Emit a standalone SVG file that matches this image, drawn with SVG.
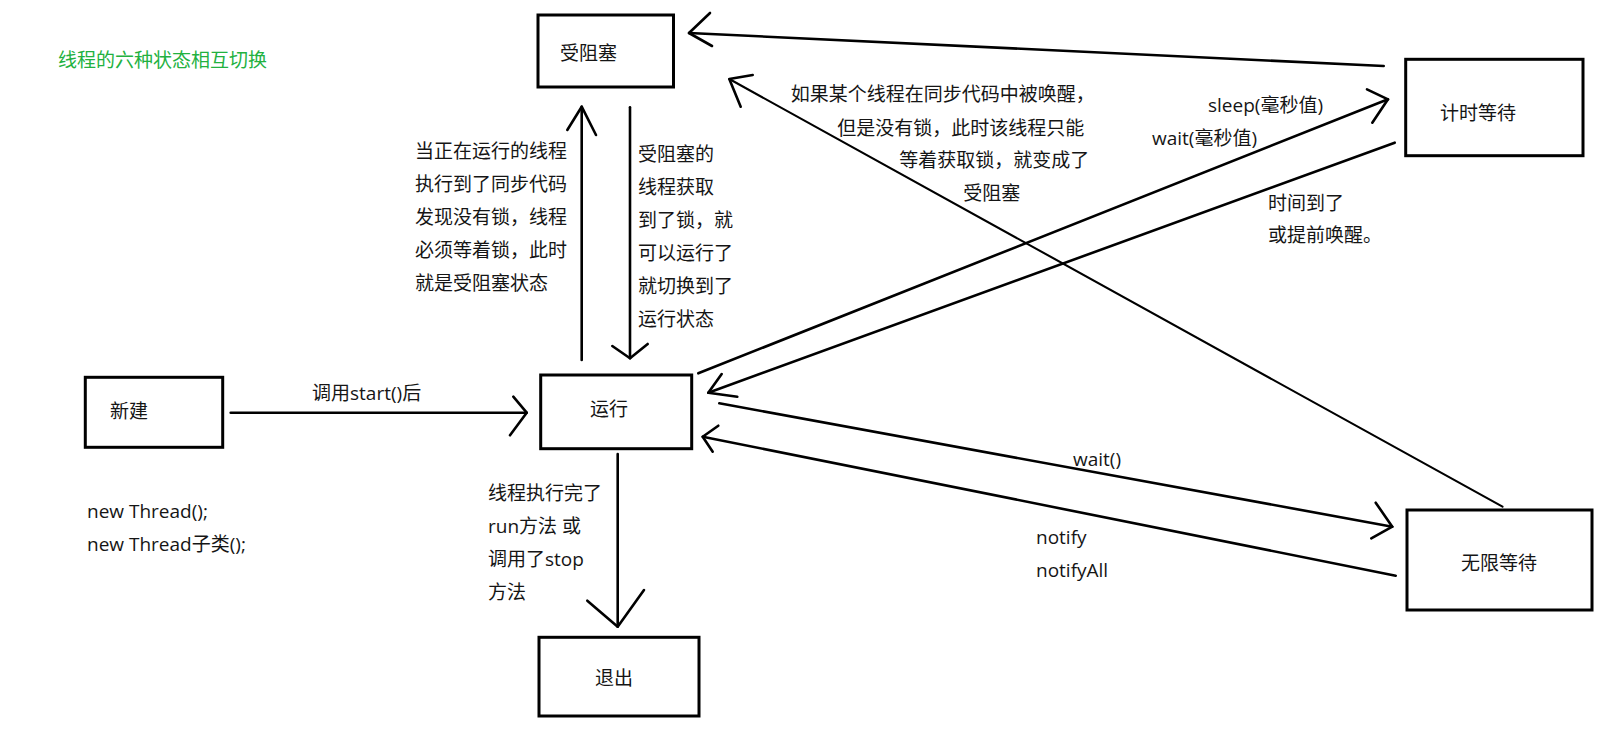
<svg xmlns="http://www.w3.org/2000/svg" width="1613" height="734" viewBox="0 0 1613 734">
<style>
  .box{fill:#fff;stroke:#000;stroke-width:3}
  .t{font-family:"Open Sans","Noto Sans CJK SC",sans-serif;font-size:19px;fill:#151515}
  .title{font-family:"Open Sans","Noto Sans CJK SC",sans-serif;font-size:19px;fill:#22b13f}
  .ln{fill:none;stroke:#000;stroke-width:2.6;stroke-linecap:round;stroke-linejoin:round}
  .thin{stroke-width:2.1}
</style>
<rect width="1613" height="734" fill="#fff"/>
<text class="title" x="58" y="67">线程的六种状态相互切换</text>

<g id="connectors">
  <g id="e-timed-blocked"><path class="ln" d="M1383.7,66 L689,33"/><polyline class="ln" points="710,13 689,33 712,46"/></g>
  <g id="e-waiting-blocked"><path class="ln thin" d="M1502.5,506.7 L729.3,79"/><polyline class="ln" points="752.7,75 729.3,79 740.7,106.7"/></g>
  <g id="e-run-blocked"><path class="ln" d="M581.7,360 L581.7,106.7"/><polyline class="ln" points="567.3,130 581.7,106.7 596,135"/></g>
  <g id="e-blocked-run"><path class="ln" d="M630,107.3 L630,358.3"/><polyline class="ln" points="612.3,346 630,358.3 647.7,344"/></g>
  <g id="e-new-run"><path class="ln" d="M230.7,412.7 L526.7,412.7"/><polyline class="ln" points="513.3,396.7 526.7,412.7 510,435.3"/></g>
  <g id="e-run-timed"><path class="ln" d="M698.3,373.3 L1388,99.3"/><polyline class="ln" points="1367,89.3 1388,99.3 1372.3,122.7"/></g>
  <g id="e-timed-run"><path class="ln" d="M1394.7,142.7 L708.3,392.7"/><polyline class="ln" points="721.7,374 708.3,392.7 737.3,396.7"/></g>
  <g id="e-run-waiting"><path class="ln" d="M719.3,403.3 L1392.3,526.7"/><polyline class="ln" points="1375.7,502.7 1392.3,526.7 1371.3,538.3"/></g>
  <g id="e-waiting-run"><path class="ln" d="M1395.7,575.7 L702.7,436.7"/><polyline class="ln" points="718.3,425.7 702.7,436.7 712.7,451.7"/></g>
  <g id="e-run-exit"><path class="ln" d="M617.7,454 L617.7,626.7"/><polyline class="ln" points="587.3,600.7 617.7,626.7 644,590"/></g>
</g>

<g id="labels">
  <text class="t" x="415" y="158">当正在运行的线程</text>
  <text class="t" x="415" y="191">执行到了同步代码</text>
  <text class="t" x="415" y="224">发现没有锁，线程</text>
  <text class="t" x="415" y="257">必须等着锁，此时</text>
  <text class="t" x="415" y="290">就是受阻塞状态</text>

  <text class="t" x="638" y="161">受阻塞的</text>
  <text class="t" x="638" y="194">线程获取</text>
  <text class="t" x="638" y="227">到了锁，就</text>
  <text class="t" x="638" y="260">可以运行了</text>
  <text class="t" x="638" y="293">就切换到了</text>
  <text class="t" x="638" y="326">运行状态</text>

  <text class="t" x="790.7" y="101">如果某个线程在同步代码中被唤醒，</text>
  <text class="t" x="837.3" y="134.5">但是没有锁，此时该线程只能</text>
  <text class="t" x="899.3" y="167">等着获取锁，就变成了</text>
  <text class="t" x="963.3" y="200">受阻塞</text>

  <text class="t" x="1208" y="112">sleep(毫秒值)</text>
  <text class="t" x="1152" y="144.5">wait(毫秒值)</text>
  <text class="t" x="1268" y="209.5">时间到了</text>
  <text class="t" x="1268" y="242">或提前唤醒。</text>

  <text class="t" x="312" y="400">调用start()后</text>
  <text class="t" x="87" y="518">new Thread();</text>
  <text class="t" x="87" y="551">new Thread子类();</text>

  <text class="t" x="488" y="499.5">线程执行完了</text>
  <text class="t" x="488" y="532.5">run方法 或</text>
  <text class="t" x="488" y="565.5">调用了stop</text>
  <text class="t" x="488" y="598.5">方法</text>

  <text class="t" x="1073" y="466">wait()</text>
  <text class="t" x="1036" y="544">notify</text>
  <text class="t" x="1036" y="577">notifyAll</text>
</g>

<g id="node-blocked"><rect class="box" x="538" y="15" width="135.5" height="72"/><text class="t" x="560" y="60">受阻塞</text></g>
<g id="node-timed"><rect class="box" x="1405.7" y="59.3" width="177.3" height="96.4"/><text class="t" x="1440" y="119.5">计时等待</text></g>
<g id="node-new"><rect class="box" x="85.3" y="377.3" width="137.4" height="70"/><text class="t" x="110" y="418">新建</text></g>
<g id="node-running"><rect class="box" x="540.7" y="375" width="151" height="73.7"/><text class="t" x="590" y="416">运行</text></g>
<g id="node-waiting"><rect class="box" x="1407" y="510" width="185" height="100"/><text class="t" x="1461" y="569.5">无限等待</text></g>
<g id="node-exit"><rect class="box" x="539" y="637.3" width="160" height="78.7"/><text class="t" x="595" y="685">退出</text></g>
</svg>
